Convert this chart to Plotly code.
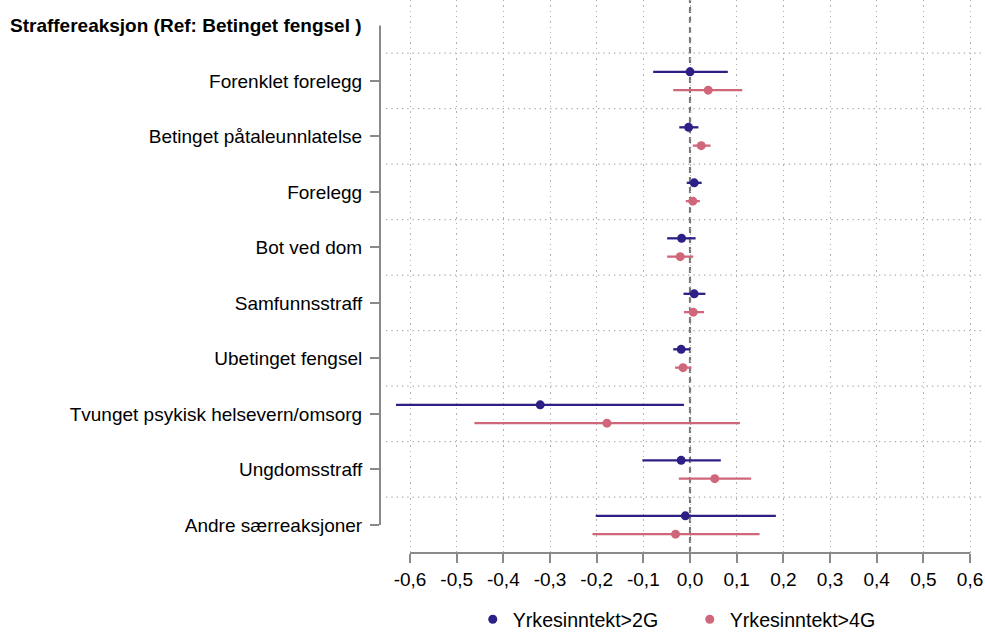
import plotly.graph_objects as go

categories = ["Forenklet forelegg", "Betinget påtaleunnlatelse", "Forelegg", "Bot ved dom",
              "Samfunnsstraff", "Ubetinget fengsel", "Tvunget psykisk helsevern/omsorg",
              "Ungdomsstraff", "Andre særreaksjoner"]
header = "Straffereaksjon (Ref: Betinget fengsel )"

s1_name = "Yrkesinntekt>2G"
s1_est = [0.000, -0.003, 0.009, -0.018, 0.009, -0.019, -0.321, -0.019, -0.010]
s1_lo = [-0.079, -0.023, -0.007, -0.049, -0.014, -0.036, -0.630, -0.102, -0.202]
s1_hi = [0.081, 0.018, 0.025, 0.012, 0.033, 0.000, -0.013, 0.066, 0.184]

s2_name = "Yrkesinntekt>4G"
s2_est = [0.039, 0.024, 0.006, -0.021, 0.007, -0.015, -0.178, 0.053, -0.031]
s2_lo = [-0.036, 0.006, -0.009, -0.049, -0.013, -0.032, -0.462, -0.024, -0.209]
s2_hi = [0.112, 0.044, 0.021, 0.007, 0.030, 0.003, 0.107, 0.131, 0.149]

x_tickvals = [-0.6, -0.5, -0.4, -0.3, -0.2, -0.1, 0.0, 0.1, 0.2, 0.3, 0.4, 0.5, 0.6]
x_ticktext = ["-0,6", "-0,5", "-0,4", "-0,3", "-0,2", "-0,1", "0,0", "0,1", "0,2", "0,3", "0,4", "0,5", "0,6"]

BLUE = "#2c1f86"
PINK = "#d0667a"
GRAY = "#8a8a8a"
FONT = "Liberation Sans, Arial, sans-serif"

ypos = list(range(1, len(categories) + 1))
off = 0.165

fig = go.Figure()
for name, est, lo, hi, color, sign in [(s1_name, s1_est, s1_lo, s1_hi, BLUE, -1),
                                        (s2_name, s2_est, s2_lo, s2_hi, PINK, 1)]:
    fig.add_trace(go.Scatter(
        x=est, y=[p + sign * off for p in ypos], mode="markers", name=name,
        marker=dict(color=color, size=9, line=dict(width=0)),
        error_x=dict(type="data", symmetric=False,
                     array=[h - e for h, e in zip(hi, est)],
                     arrayminus=[e - l for e, l in zip(est, lo)],
                     color=color, thickness=2.3, width=0),
    ))

shapes = []
# dotted separators between categories
for b in range(len(categories)):
    shapes.append(dict(type="line", xref="paper", x0=0.01, x1=1, yref="y", y0=b + 0.5, y1=b + 0.5,
                       line=dict(color="#ababab", width=1.3, dash="1.3px,4px"), layer="below"))
# dashed zero line
shapes.append(dict(type="line", xref="x", x0=0, x1=0, yref="paper", y0=0, y1=1,
                   line=dict(color="#777777", width=2.2, dash="6px,4px"), layer="below"))
# x axis line
shapes.append(dict(type="line", xref="x", x0=-0.6, x1=0.6, yref="paper", y0=0, y1=0,
                   line=dict(color=GRAY, width=2)))
# y axis line
shapes.append(dict(type="line", xref="paper", x0=0, x1=0, yref="y", y0=0, y1=len(categories),
                   line=dict(color=GRAY, width=2)))

fig.update_layout(
    width=985, height=632,
    margin=dict(l=380, r=0, t=0, b=79, autoexpand=False),
    paper_bgcolor="white", plot_bgcolor="white",
    font=dict(family=FONT, size=19, color="black"),
    showlegend=True,
    legend=dict(orientation="h", x=0.512, xanchor="center", y=-0.1556, yanchor="bottom",
                font=dict(size=19.6), entrywidth=172, entrywidthmode="pixels",
                tracegroupgap=0),
    shapes=shapes,
    annotations=[dict(text="<b>" + header + "</b>", xref="paper", x=0, xanchor="right", xshift=-16,
                      yref="y", y=0, yanchor="middle", showarrow=False,
                      font=dict(family=FONT, size=19, color="black"))],
)
fig.update_xaxes(range=[-0.6643, 0.6321], tickvals=x_tickvals, ticktext=x_ticktext,
                 showline=False, zeroline=False, ticks="outside", ticklen=9, tickwidth=2,
                 tickcolor=GRAY, showgrid=True, gridcolor="#b0b0b0", gridwidth=1.3,
                 griddash="1.3px,4px", tickfont=dict(size=19))
fig.update_yaxes(range=[9.505, -0.459], tickvals=ypos, ticktext=categories,
                 showline=False, zeroline=False, showgrid=False, ticks="outside", ticklen=9,
                 tickwidth=2, tickcolor=GRAY, tickfont=dict(size=19), ticklabelstandoff=4)

fig.write_html("out.html", config={"displayModeBar": False},
               post_script="document.body.style.margin='0px';document.body.style.padding='0px';")
